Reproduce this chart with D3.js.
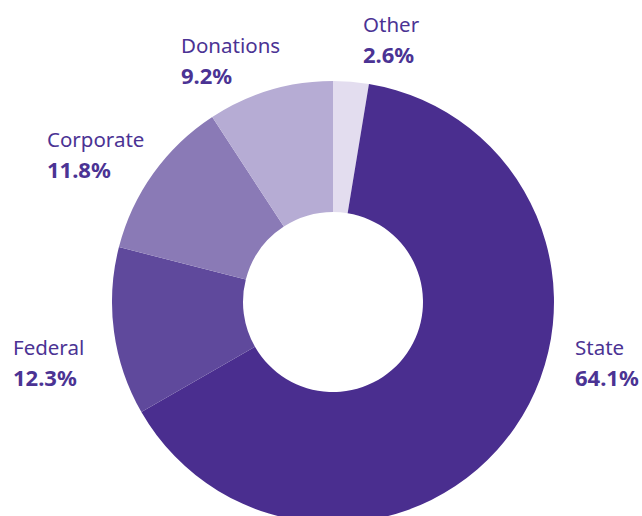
<!DOCTYPE html>
<html>
<head>
<meta charset="utf-8">
<script src="https://cdn.jsdelivr.net/npm/d3@7"></script>
<style>
  html, body { margin: 0; padding: 0; background: #fff; }
  svg { display: block; }
</style>
</head>
<body>
<script>
// funding sources, clockwise from 12 o'clock
var categories = ["Other", "State", "Federal", "Corporate", "Donations"]
var shares = [2.6, 64.1, 12.3, 11.8, 9.2]
var pctLabels = ["2.6%", "64.1%", "12.3%", "11.8%", "9.2%"]

var colors = ["#e3ddef", "#4a2e8f", "#5f499c", "#8a7ab6", "#b6acd4"]
// label anchor (left x, baseline of name) for each slice
var labelPos = [[363, 32], [575, 355], [13, 355], [47, 147], [181, 53]]

var width = 642, height = 516
var cx = 333, cy = 302
var outerR = 221, innerR = 90

var svg = d3.select("body").append("svg")
    .attr("width", width)
    .attr("height", height)

var pie = d3.pie().sort(null).value(d => d)
var arc = d3.arc().innerRadius(innerR).outerRadius(outerR)

var g = svg.append("g").attr("transform", `translate(${cx},${cy})`)

g.selectAll("path")
  .data(pie(shares))
  .join("path")
    .attr("d", arc)
    .attr("fill", (d, i) => colors[i])

var labels = svg.append("g")
    .attr("font-family", "'Source Sans Pro', 'Noto Sans', sans-serif")
    .attr("fill", "#4b3394")

categories.forEach((c, i) => {
  var p = labelPos[i]
  var t = labels.append("text")
      .attr("x", p[0])
      .attr("y", p[1])
  t.append("tspan")
      .attr("font-size", 20.5)
      .text(c)
  t.append("tspan")
      .attr("x", p[0])
      .attr("dy", 31)
      .attr("font-size", 22)
      .attr("font-weight", "bold")
      .text(pctLabels[i])
})
</script>
</body>
</html>
